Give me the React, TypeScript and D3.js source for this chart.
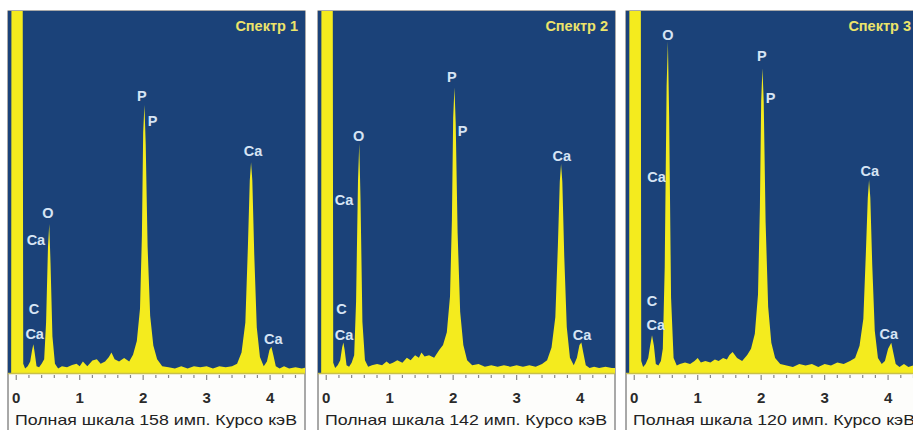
import * as d3 from 'd3';

// energy in keV, counts in pulses
const spectrum1: [number, number][] = [
  [-0.08, 0], [-0.07, 400], [0.09, 400], [0.11, 4], [0.14, 2], [0.18, 3], [0.22, 5], [0.25, 10],
  [0.27, 12.5], [0.29, 9], [0.32, 3], [0.36, 2.5], [0.4, 4], [0.44, 6], [0.47, 22], [0.5, 55],
  [0.52, 65], [0.54, 48], [0.57, 16], [0.61, 4], [0.66, 2], [0.72, 3], [0.8, 2.5], [0.88, 3.5],
  [0.95, 4], [1.0, 3], [1.05, 5], [1.12, 3], [1.2, 5.5], [1.27, 6], [1.33, 4], [1.4, 5],
  [1.46, 7], [1.5, 9], [1.55, 6], [1.62, 5], [1.7, 6.5], [1.78, 5], [1.84, 8], [1.9, 14],
  [1.95, 28], [1.98, 60], [2.0, 105], [2.02, 117], [2.04, 100], [2.07, 55], [2.11, 25], [2.16, 12],
  [2.22, 6], [2.3, 3], [2.4, 2.5], [2.5, 2], [2.6, 3], [2.7, 2], [2.8, 3], [2.9, 2.5],
  [3.0, 3], [3.1, 2], [3.2, 3], [3.3, 2.5], [3.4, 3], [3.48, 4], [3.55, 9], [3.61, 22],
  [3.65, 55], [3.68, 84], [3.7, 92], [3.72, 84], [3.75, 52], [3.79, 20], [3.84, 7], [3.9, 3],
  [3.95, 5], [3.99, 10], [4.02, 11.5], [4.05, 8], [4.09, 3], [4.15, 2], [4.22, 3], [4.3, 2],
  [4.4, 2.5], [4.5, 2], [4.6, 2.5],
];

const spectrum2: [number, number][] = [
  [-0.08, 0], [-0.07, 400], [0.09, 400], [0.11, 4], [0.14, 2], [0.18, 3], [0.22, 5], [0.25, 10],
  [0.27, 12], [0.29, 9], [0.32, 3], [0.36, 2.5], [0.4, 4], [0.44, 7], [0.47, 28], [0.5, 75],
  [0.52, 90], [0.54, 68], [0.57, 20], [0.61, 5], [0.66, 2.5], [0.72, 3], [0.8, 3.5], [0.88, 3],
  [0.95, 4.5], [1.0, 3.5], [1.05, 4], [1.12, 5], [1.2, 4], [1.27, 6], [1.33, 5], [1.4, 7],
  [1.46, 6], [1.5, 8], [1.55, 6.5], [1.62, 7], [1.7, 6], [1.78, 9], [1.84, 11], [1.9, 16],
  [1.95, 30], [1.98, 60], [2.0, 100], [2.02, 112], [2.04, 98], [2.07, 55], [2.11, 24], [2.16, 11],
  [2.22, 5], [2.3, 3], [2.4, 3.5], [2.5, 2.5], [2.6, 3], [2.7, 2.5], [2.8, 3], [2.9, 2.5],
  [3.0, 3], [3.1, 2.5], [3.2, 3], [3.3, 2.5], [3.4, 3.5], [3.48, 5], [3.55, 10], [3.61, 22],
  [3.65, 50], [3.68, 75], [3.7, 82], [3.72, 75], [3.75, 46], [3.79, 18], [3.84, 6], [3.9, 3],
  [3.95, 6], [3.99, 11], [4.02, 12], [4.05, 8], [4.09, 3], [4.15, 2], [4.22, 2.5], [4.3, 2],
  [4.4, 2.5], [4.5, 2], [4.6, 2],
];

const spectrum3: [number, number][] = [
  [-0.08, 0], [-0.07, 400], [0.09, 400], [0.11, 4], [0.14, 2], [0.18, 3], [0.22, 5], [0.25, 9],
  [0.28, 12.5], [0.31, 9], [0.34, 3], [0.38, 2.5], [0.42, 4], [0.45, 8], [0.48, 35], [0.51, 95],
  [0.53, 110], [0.55, 85], [0.58, 25], [0.62, 5], [0.67, 2.5], [0.72, 3], [0.8, 3.5], [0.88, 3],
  [0.95, 4], [1.0, 5], [1.05, 3.5], [1.12, 4], [1.2, 3.5], [1.27, 4.5], [1.33, 4], [1.4, 5],
  [1.46, 4.5], [1.5, 6], [1.55, 7], [1.62, 5], [1.7, 4], [1.78, 6], [1.84, 8], [1.9, 13],
  [1.95, 26], [1.98, 55], [2.0, 90], [2.02, 101], [2.04, 90], [2.07, 50], [2.11, 22], [2.16, 10],
  [2.22, 5], [2.3, 3], [2.4, 2.5], [2.5, 2], [2.6, 3], [2.7, 2.5], [2.8, 3], [2.9, 2],
  [3.0, 3], [3.1, 2.5], [3.2, 3.5], [3.3, 3], [3.4, 4], [3.48, 5], [3.55, 9], [3.61, 18],
  [3.65, 40], [3.68, 58], [3.7, 64], [3.72, 58], [3.75, 36], [3.79, 14], [3.84, 5], [3.9, 3],
  [3.95, 4], [4.0, 8], [4.05, 10], [4.08, 7], [4.12, 3], [4.18, 2], [4.25, 3], [4.32, 2],
  [4.4, 2.5], [4.5, 2], [4.6, 2],
];

// element labels: [text, keV, counts]
const labels1: [string, number, number][] = [
  ['P', 1.98, 121], ['P', 2.15, 110], ['Ca', 3.73, 97], ['O', 0.5, 70],
  ['Ca', 0.31, 58], ['C', 0.28, 28], ['Ca', 0.29, 17], ['Ca', 4.05, 15],
];
const labels2: [string, number, number][] = [
  ['P', 1.98, 116], ['P', 2.15, 95], ['O', 0.51, 93], ['Ca', 0.28, 68],
  ['Ca', 3.71, 85], ['C', 0.24, 25], ['Ca', 0.28, 15], ['Ca', 4.03, 15],
];
const labels3: [string, number, number][] = [
  ['O', 0.53, 112], ['P', 2.01, 105], ['P', 2.15, 91], ['Ca', 0.35, 65],
  ['Ca', 3.71, 67], ['C', 0.28, 24], ['Ca', 0.34, 16], ['Ca', 4.01, 13],
];

const titles = ['Спектр 1', 'Спектр 2', 'Спектр 3'];
const fullScales = [158, 142, 120];
const tickValues = [0, 1, 2, 3, 4];

const W = 913;
const H = 430;
const panelLefts = [8, 318, 626];
const panelW = 297;
const top = 11;
const bottom = 373;
const font = "'Liberation Sans', Arial, sans-serif";

function Panel({ idx, data, labels }: { idx: number; data: [number, number][]; labels: [string, number, number][] }) {
  const left = panelLefts[idx];
  const x = d3.scaleLinear().domain([-0.13, 4.55]).range([left, left + panelW]);
  const y = d3.scaleLinear().domain([0, fullScales[idx]]).range([bottom, top]);
  const area = d3
    .area<[number, number]>()
    .x((d) => x(d[0]))
    .y0(bottom)
    .y1((d) => y(d[1]));
  const minor = d3.range(0, 4.5, 0.2);
  const clipId = `clip${idx}`;
  const titleRight = Math.min(left + 290, W - 2);

  return (
    <g>
      <defs>
        <clipPath id={clipId}>
          <rect x={left} y={top} width={panelW} height={bottom - top} />
        </clipPath>
      </defs>
      <rect x={left} y={top} width={panelW} height={H - top + 5} fill='#fdfdfb' stroke='#555' strokeWidth={1} />
      <rect x={left} y={top} width={panelW} height={bottom - top} fill='#1b4279' />
      <path d={area(data) || ''} fill='#f4eb1e' clipPath={`url(#${clipId})`} />
      <line x1={left} x2={left + panelW} y1={bottom + 0.5} y2={bottom + 0.5} stroke='#c8c04a' strokeWidth={1.5} />
      {minor.map((t) => (
        <line
          key={t}
          x1={x(t)}
          x2={x(t)}
          y1={bottom + 2}
          y2={bottom + (Math.abs(t - Math.round(t)) < 0.01 ? 7 : 5)}
          stroke='#888'
          strokeWidth={1.2}
        />
      ))}
      {tickValues.map((t) => (
        <text key={t} x={x(t)} y={403} textAnchor='middle' fontFamily={font} fontWeight='bold' fontSize={15} fill='#2a2a2a'>
          {t}
        </text>
      ))}
      <text x={left + 7} y={425} fontFamily={font} fontSize={15} fill='#222' textLength={282} lengthAdjust='spacingAndGlyphs'>
        {`Полная шкала ${fullScales[idx]} имп. Курсо кэВ`}
      </text>
      <text x={titleRight} y={31} textAnchor='end' fontFamily={font} fontWeight='bold' fontSize={14.5} fill='#ece46a'>
        {titles[idx]}
      </text>
      {labels.map(([t, k, c], i) => (
        <text
          key={i}
          x={x(k)}
          y={y(c)}
          textAnchor='middle'
          dominantBaseline='central'
          fontFamily={font}
          fontWeight='bold'
          fontSize={14.5}
          fill='#d6e4f4'
        >
          {t}
        </text>
      ))}
    </g>
  );
}

export default function App() {
  return (
    <svg width={W} height={H} style={{ position: 'absolute', left: 0, top: 0, background: '#fff' }}>
      <Panel idx={0} data={spectrum1} labels={labels1} />
      <Panel idx={1} data={spectrum2} labels={labels2} />
      <Panel idx={2} data={spectrum3} labels={labels3} />
    </svg>
  );
}
